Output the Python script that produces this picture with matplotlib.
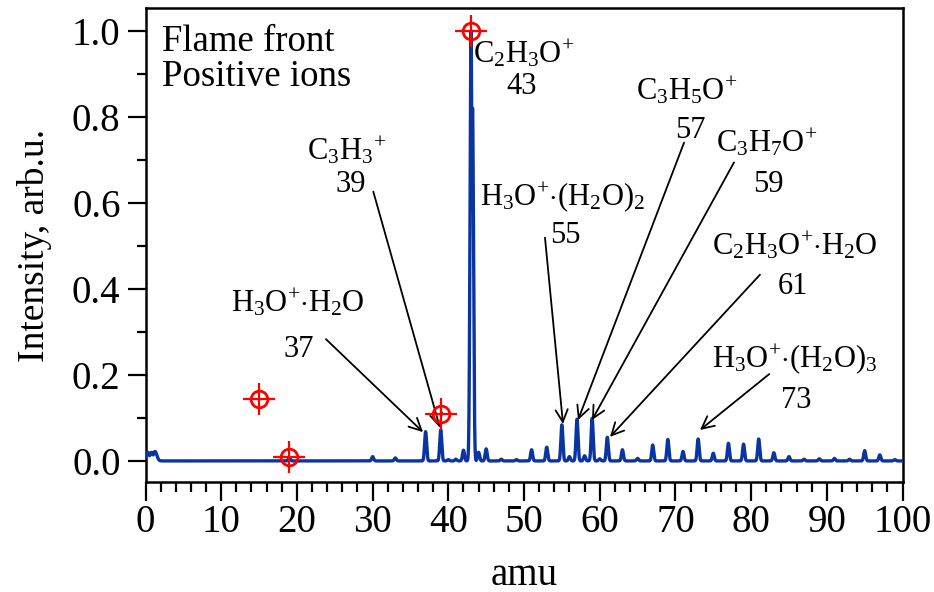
import numpy as np
import matplotlib
matplotlib.use('Agg')
import matplotlib.pyplot as plt
from matplotlib.ticker import MultipleLocator

plt.rcParams['font.family'] = ['Liberation Serif', 'DejaVu Serif']
plt.rcParams['mathtext.fontset'] = 'custom'
plt.rcParams['mathtext.rm'] = 'Liberation Serif'
plt.rcParams['mathtext.it'] = 'Liberation Serif:italic'
plt.rcParams['mathtext.bf'] = 'Liberation Serif:bold'

# ---- data ----
peak_amu = [0.3, 0.8, 1.25, 19, 30, 33, 37, 39, 40, 41, 42, 43, 43.2, 44, 45,
            47, 49, 51, 53, 55, 56, 57, 58, 59, 60, 61, 63, 65, 67, 69, 71,
            73, 75, 77, 79, 81, 83, 85, 87, 89, 91, 93, 95, 97, 99]
peak_intensity = [0.02, 0.02, 0.022, 0.008, 0.01, 0.007, 0.068, 0.072, 0.003,
                  0.004, 0.025, 1.0, 0.82, 0.02, 0.028, 0.004, 0.003, 0.026,
                  0.032, 0.084, 0.01, 0.097, 0.012, 0.099, 0.005, 0.055, 0.026,
                  0.006, 0.037, 0.05, 0.022, 0.051, 0.018, 0.041, 0.039, 0.051,
                  0.019, 0.01, 0.004, 0.005, 0.006, 0.004, 0.024, 0.014, 0.003]
peak_width = [0.25, 0.25, 0.25] + [0.13] * (len(peak_amu) - 3)

ref_amu = [15, 19, 39, 43]
ref_intensity = [0.145, 0.01, 0.109, 1.0]

labels = [
    (r'$\mathrm{H_3O^{+}{\cdot}H_2O}$', '37'),
    (r'$\mathrm{C_3H_3{}^{+}}$', '39'),
    (r'$\mathrm{H_3O^{+}{\cdot}(H_2O)_2}$', '55'),
    (r'$\mathrm{C_3H_5O^{+}}$', '57'),
    (r'$\mathrm{C_3H_7O^{+}}$', '59'),
    (r'$\mathrm{C_2H_3O^{+}{\cdot}H_2O}$', '61'),
    (r'$\mathrm{H_3O^{+}{\cdot}(H_2O)_3}$', '73'),
]

# ---- figure ----
fig = plt.figure(figsize=(9.34, 5.92), dpi=100)
ax = fig.add_axes([0.1558, 0.1858, 0.9663 - 0.1558, 0.9865 - 0.1858])

x = np.linspace(0, 100, 8001)
y = np.zeros_like(x)
for m, h, w in zip(peak_amu, peak_intensity, peak_width):
    y = np.maximum(y, h * np.exp(-0.5 * ((x - m) / w) ** 2))
ax.plot(x, y, color='#0a35a0', lw=2.4, solid_joinstyle='round', zorder=3)

ax.plot(ref_amu, ref_intensity, ls='none', marker='o', ms=12, mfc='none',
        mec='#ff0000', mew=2.0, zorder=5, clip_on=False)
ax.plot(ref_amu, ref_intensity, ls='none', marker='+', ms=23,
        mec='#ff0000', mew=1.6, zorder=5, clip_on=False)

ax.set_xlim(0, 100)
ax.set_ylim(-0.049, 1.053)
ax.xaxis.set_major_locator(MultipleLocator(10))
ax.xaxis.set_minor_locator(MultipleLocator(2))
ax.yaxis.set_major_locator(MultipleLocator(0.2))
ax.yaxis.set_minor_locator(MultipleLocator(0.1))
ax.yaxis.set_major_formatter(matplotlib.ticker.FormatStrFormatter('%.1f'))
ax.tick_params(axis='x', which='major', direction='out', length=14, width=1.6,
               labelsize=28, pad=2)
ax.tick_params(axis='x', which='minor', direction='out', length=7, width=1.6)
ax.tick_params(axis='y', which='major', direction='out', length=13, width=1.6,
               labelsize=28, pad=5)
ax.tick_params(axis='y', which='minor', direction='out', length=6.5, width=1.6)
for s in ax.spines.values():
    s.set_linewidth(1.8)

ax.set_xlabel('amu', fontsize=28, labelpad=11)
ax.set_ylabel('Intensity, arb.u.', fontsize=27, labelpad=14)

ax.text(0.022, 0.965, 'Flame front\nPositive ions', transform=ax.transAxes,
        fontsize=26.5, va='top', ha='left', linespacing=1.0)

# label text positions (centre x, baseline y) and arrows (start, end)
text_pos = [(20.15, 0.347, 20.28, 0.242),
            (26.58, 0.700, 27.1, 0.626),
            (55.15, 0.595, 55.42, 0.507),
            (71.5, 0.840, 71.93, 0.751),
            (82.06, 0.719, 82.23, 0.626),
            (85.8, 0.479, 85.53, 0.388),
            (85.8, 0.219, 85.93, 0.123)]
arrows = [((23.84, 0.283), (36.66, 0.067)),
          ((30.09, 0.626), (38.9, 0.077)),
          ((52.77, 0.519), (55.15, 0.086)),
          ((71.14, 0.740), (57.13, 0.095)),
          ((77.74, 0.694), (58.98, 0.095)),
          ((81.17, 0.433), (61.36, 0.056)),
          ((82.4, 0.202), (73.25, 0.072))]
fs = 22
for (formula, mass), (fx, fy, mx, my), (start, end) in zip(labels, text_pos, arrows):
    ax.text(fx, fy, formula, fontsize=fs, ha='center', va='baseline')
    ax.text(mx, my, mass, fontsize=fs, ha='center', va='baseline')
    ax.annotate('', xy=end, xytext=start,
                arrowprops=dict(arrowstyle='->', lw=1.3, color='black',
                                mutation_scale=22, shrinkA=0, shrinkB=0))

ax.text(43.23, 0.926, r'$\mathrm{C_2H_3O^{+}}$', fontsize=fs, ha='left', va='baseline')
ax.text(49.7, 0.853, '43', fontsize=fs, ha='center', va='baseline')

fig.savefig('out.png', dpi=100)
